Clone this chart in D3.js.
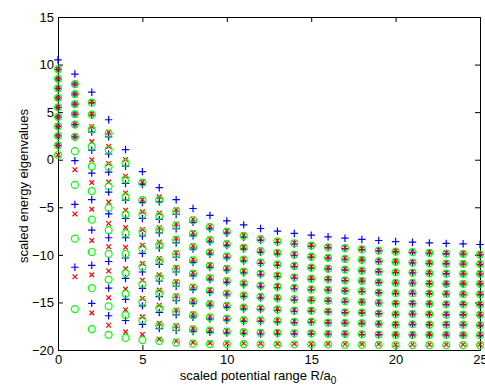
<!DOCTYPE html>
<html>
<head>
<meta charset="utf-8">
<script src="https://cdn.jsdelivr.net/npm/d3@7"></script>
<style>
  body { margin: 0; background: #fff; }
  svg { display: block; }
  text { font-family: "Liberation Sans", Arial, Helvetica, sans-serif; }
</style>
</head>
<body>
<div id="chart"></div>
<script>
// potential range R/a0 for each column of eigenvalues
const rangeValues = [0, 1, 2, 3, 4, 5, 6, 7, 8, 9, 10, 11, 12, 13, 14, 15, 16, 17, 18, 19, 20, 21, 22, 23, 24, 25];

// blue "+" eigenvalues, one list per R
const plusValues = [
  [10.5, 9.5, 8.5, 7.5, 6.5, 5.5, 4.5, 3.5, 2.5, 1.5],
  [9.0, 7.95, 6.9, 5.85, 4.8, 3.7, 2.4, -0.1, -4.7, -11.3],
  [7.1, 6.0, 4.7, 2.9, 1.0, -1.4, -4.2, -7.4, -11.1, -15.1],
  [4.2, 2.4, 0.6, -1.3, -3.4, -5.7, -8.2, -10.7, -13.5, -16.4],
  [1.07, -0.68, -2.5, -4.25, -6.18, -8.2, -10.33, -12.48, -14.67, -16.9],
  [-1.25, -2.6, -4.5, -6.18, -8.02, -9.85, -11.8, -13.53, -15.36, -17.31],
  [-2.94, -4.43, -6.28, -7.7, -9.28, -11.0, -12.75, -14.4, -16.05, -17.75],
  [-4.2, -5.75, -7.25, -8.75, -10.25, -11.8, -13.3, -14.8, -16.3, -17.95],
  [-5.13, -6.58, -8.0, -9.4, -10.8, -12.2, -13.65, -15.1, -16.55, -18.05],
  [-5.86, -7.27, -8.63, -9.93, -11.33, -12.62, -13.95, -15.35, -16.75, -18.15],
  [-6.43, -7.72, -9.02, -10.32, -11.62, -12.92, -14.22, -15.52, -16.87, -18.22],
  [-6.85, -8.15, -9.4, -10.65, -11.9, -13.15, -14.4, -15.7, -17.0, -18.27],
  [-7.23, -8.48, -9.73, -10.91, -12.1, -13.36, -14.54, -15.76, -17.0, -18.32],
  [-7.51, -8.7, -9.9, -11.1, -12.28, -13.45, -14.63, -15.83, -17.05, -18.3],
  [-7.75, -8.86, -10.05, -11.23, -12.43, -13.54, -14.74, -15.93, -17.12, -18.31],
  [-7.93, -9.08, -10.24, -11.39, -12.55, -13.67, -14.79, -15.91, -17.08, -18.3],
  [-8.1, -9.24, -10.35, -11.48, -12.6, -13.71, -14.84, -15.99, -17.15, -18.34],
  [-8.25, -9.34, -10.46, -11.58, -12.71, -13.79, -14.91, -16.07, -17.18, -18.34],
  [-8.38, -9.44, -10.55, -11.68, -12.76, -13.85, -14.97, -16.09, -17.21, -18.37],
  [-8.49, -9.57, -10.69, -11.77, -12.9, -13.98, -15.06, -16.18, -17.27, -18.39],
  [-8.6, -9.67, -10.75, -11.85, -12.96, -14.05, -15.13, -16.26, -17.34, -18.42],
  [-8.67, -9.74, -10.83, -11.88, -12.96, -14.05, -15.13, -16.22, -17.31, -18.42],
  [-8.74, -9.81, -10.9, -11.95, -13.03, -14.08, -15.16, -16.26, -17.34, -18.42],
  [-8.8, -9.88, -10.93, -11.98, -13.06, -14.12, -15.21, -16.29, -17.34, -18.42],
  [-8.84, -9.91, -10.96, -12.01, -13.06, -14.14, -15.21, -16.29, -17.36, -18.44],
  [-8.91, -9.99, -10.99, -12.01, -13.06, -14.16, -15.24, -16.32, -17.41, -18.46]
];

// red "x" eigenvalues
const crossValues = [
  [9.5, 8.5, 7.5, 6.5, 5.5, 4.5, 3.5, 2.5, 1.5, 0.5],
  [7.95, 6.9, 5.85, 4.8, 3.7, 2.45, -1.05, -5.7, -12.3],
  [6.1, 4.8, 3.5, 1.9, 0.0, -2.4, -5.2, -8.5, -12.1, -16.1],
  [2.9, 1.4, -0.4, -2.35, -4.45, -6.7, -9.15, -11.7, -14.5, -17.4],
  [0.02, -1.73, -3.49, -5.3, -7.12, -9.2, -11.45, -13.6, -15.77, -18.09],
  [-2.33, -4.18, -5.48, -7.33, -8.98, -10.9, -12.66, -14.58, -16.51, -18.36],
  [-3.9, -5.6, -7.15, -8.65, -10.38, -12.08, -13.7, -15.3, -17.2, -18.85],
  [-5.25, -6.75, -8.25, -9.75, -11.3, -12.8, -14.3, -15.8, -17.45, -19.05],
  [-6.23, -7.65, -9.05, -10.45, -11.85, -13.3, -14.75, -16.2, -17.7, -19.2],
  [-6.97, -8.33, -9.63, -11.03, -12.32, -13.65, -15.05, -16.45, -17.85, -19.25],
  [-7.45, -8.75, -10.05, -11.35, -12.65, -13.95, -15.25, -16.6, -17.95, -19.28],
  [-7.91, -9.16, -10.41, -11.66, -12.91, -14.16, -15.46, -16.76, -18.03, -19.29],
  [-8.26, -9.51, -10.69, -11.88, -13.14, -14.32, -15.54, -16.78, -18.1, -19.31],
  [-8.52, -9.72, -10.92, -12.1, -13.27, -14.45, -15.65, -16.87, -18.12, -19.35],
  [-8.71, -9.9, -11.08, -12.28, -13.39, -14.59, -15.78, -16.97, -18.16, -19.35],
  [-8.95, -10.11, -11.26, -12.42, -13.54, -14.66, -15.78, -16.95, -18.17, -19.35],
  [-9.13, -10.24, -11.37, -12.49, -13.6, -14.73, -15.88, -17.04, -18.23, -19.35],
  [-9.23, -10.35, -11.47, -12.6, -13.68, -14.8, -15.96, -17.07, -18.23, -19.38],
  [-9.34, -10.45, -11.58, -12.66, -13.75, -14.87, -15.99, -17.11, -18.27, -19.38],
  [-9.48, -10.6, -11.68, -12.81, -13.89, -14.97, -16.09, -17.18, -18.3, -19.38],
  [-9.58, -10.66, -11.76, -12.87, -13.96, -15.04, -16.17, -17.25, -18.33, -19.42],
  [-9.65, -10.74, -11.79, -12.87, -13.96, -15.04, -16.13, -17.22, -18.33, -19.42],
  [-9.72, -10.81, -11.86, -12.94, -13.99, -15.07, -16.17, -17.25, -18.33, -19.42],
  [-9.79, -10.84, -11.89, -12.97, -14.03, -15.12, -16.2, -17.25, -18.33, -19.42],
  [-9.82, -10.87, -11.92, -12.97, -14.05, -15.12, -16.2, -17.27, -18.35, -19.42],
  [-9.9, -10.9, -11.92, -12.97, -14.07, -15.15, -16.23, -17.32, -18.37, -19.42]
];

// green "o" eigenvalues
const circleValues = [
  [9.5, 8.5, 7.5, 6.5, 5.5, 4.5, 3.5, 2.5, 1.5, 0.5],
  [7.95, 6.9, 5.85, 4.8, 3.7, 2.4, 0.9, -2.65, -8.3, -15.7],
  [6.0, 4.75, 3.2, 1.4, -0.7, -3.3, -6.3, -9.7, -13.5, -17.8],
  [2.75, 1.05, -0.75, -2.8, -5.05, -7.4, -9.9, -12.6, -15.4, -18.4],
  [-0.33, -2.08, -3.9, -5.74, -7.75, -9.9, -11.92, -14.1, -16.33, -18.73],
  [-2.4, -4.25, -5.76, -7.58, -9.33, -11.26, -13.1, -14.94, -16.86, -18.96],
  [-4.2, -5.9, -7.35, -8.95, -10.6, -12.35, -14.0, -15.6, -17.4, -19.05],
  [-5.42, -6.92, -8.42, -9.92, -11.47, -12.97, -14.47, -15.97, -17.62, -19.22],
  [-6.36, -7.78, -9.18, -10.58, -11.98, -13.43, -14.88, -16.33, -17.83, -19.33],
  [-7.09, -8.45, -9.75, -11.15, -12.44, -13.77, -15.17, -16.57, -17.97, -19.37],
  [-7.56, -8.86, -10.16, -11.46, -12.76, -14.06, -15.36, -16.71, -18.06, -19.39],
  [-8.0, -9.25, -10.5, -11.75, -13.0, -14.25, -15.55, -16.85, -18.12, -19.38],
  [-8.35, -9.6, -10.78, -11.97, -13.23, -14.41, -15.63, -16.87, -18.19, -19.4],
  [-8.59, -9.79, -10.99, -12.17, -13.34, -14.52, -15.72, -16.94, -18.19, -19.42],
  [-8.78, -9.97, -11.15, -12.35, -13.46, -14.66, -15.85, -17.04, -18.23, -19.42],
  [-9.02, -10.18, -11.33, -12.49, -13.61, -14.73, -15.85, -17.02, -18.24, -19.42],
  [-9.2, -10.31, -11.44, -12.56, -13.67, -14.8, -15.95, -17.11, -18.3, -19.42],
  [-9.3, -10.42, -11.54, -12.67, -13.75, -14.87, -16.03, -17.14, -18.3, -19.45],
  [-9.41, -10.52, -11.65, -12.73, -13.82, -14.94, -16.06, -17.18, -18.34, -19.45],
  [-9.55, -10.67, -11.75, -12.88, -13.96, -15.04, -16.16, -17.25, -18.37, -19.45],
  [-9.65, -10.73, -11.83, -12.94, -14.03, -15.11, -16.24, -17.32, -18.4, -19.49],
  [-9.72, -10.81, -11.86, -12.94, -14.03, -15.11, -16.2, -17.29, -18.4, -19.49],
  [-9.79, -10.88, -11.93, -13.01, -14.06, -15.14, -16.24, -17.32, -18.4, -19.49],
  [-9.86, -10.91, -11.96, -13.04, -14.1, -15.19, -16.27, -17.32, -18.4, -19.49],
  [-9.89, -10.94, -11.99, -13.04, -14.12, -15.19, -16.27, -17.34, -18.42, -19.49],
  [-9.97, -10.97, -11.99, -13.04, -14.14, -15.22, -16.3, -17.39, -18.44, -19.49]
];

const xTicks = [0, 5, 10, 15, 20, 25];
const yTicks = [-20, -15, -10, -5, 0, 5, 10, 15];

const W = 485, H = 387;
const plot = { left: 58, right: 480, top: 17, bottom: 350 };

const svg = d3.select("#chart").append("svg")
  .attr("width", W)
  .attr("height", H);

const x = d3.scaleLinear().domain([0, 25]).range([plot.left, plot.right]);
const y = d3.scaleLinear().domain([-20, 15]).range([plot.bottom, plot.top]);

const fmt = d3.format("d");
const tick = 5;

// bottom / left axes with labels, ticks pointing inside
const gx = svg.append("g")
  .attr("transform", `translate(0,${plot.bottom})`)
  .call(d3.axisBottom(x).tickValues(xTicks).tickFormat(fmt).tickSizeInner(-tick).tickSizeOuter(0).tickPadding(5));
const gy = svg.append("g")
  .attr("transform", `translate(${plot.left},0)`)
  .call(d3.axisLeft(y).tickValues(yTicks).tickFormat(fmt).tickSizeInner(-tick).tickSizeOuter(0).tickPadding(4));
// top / right axes: ticks only
const gt = svg.append("g")
  .attr("transform", `translate(0,${plot.top})`)
  .call(d3.axisTop(x).tickValues(xTicks).tickFormat("").tickSizeInner(-tick).tickSizeOuter(0));
const gr = svg.append("g")
  .attr("transform", `translate(${plot.right},0)`)
  .call(d3.axisRight(y).tickValues(yTicks).tickFormat("").tickSizeInner(-tick).tickSizeOuter(0));

[gx, gy, gt, gr].forEach(g => {
  g.selectAll("path.domain").attr("stroke", "#000").attr("stroke-width", 1);
  g.selectAll(".tick line").attr("stroke", "#000");
  g.selectAll("text").attr("font-size", 13).attr("fill", "#000")
    .attr("font-family", '"Liberation Sans", Arial, Helvetica, sans-serif');
});

// markers
const toPoints = vals => rangeValues.flatMap((r, i) => vals[i].map(v => ({ r, v })));

const series = [
  { vals: plusValues, type: d3.symbolPlus, size: 20, color: "#0000ff" },
  { vals: crossValues, type: d3.symbolTimes, size: 16, color: "#ff0000" },
  { vals: circleValues, type: d3.symbolCircle, size: 38, color: "#00ff00" }
];

series.forEach(s => {
  svg.append("g")
    .selectAll("path")
    .data(toPoints(s.vals))
    .join("path")
    .attr("transform", d => `translate(${x(d.r)},${y(d.v)})`)
    .attr("d", d3.symbol(s.type, s.size))
    .attr("fill", "none")
    .attr("stroke", s.color)
    .attr("stroke-width", 1.2);
});

// axis titles
const xl = svg.append("text")
  .attr("x", 258)
  .attr("y", 380)
  .attr("text-anchor", "middle")
  .attr("font-size", 13);
xl.append("tspan").text("scaled potential range R/a");
xl.append("tspan").attr("dy", 4).attr("font-size", 10).text("0");

svg.append("text")
  .attr("transform", "translate(28,186) rotate(-90)")
  .attr("text-anchor", "middle")
  .attr("font-size", 13)
  .text("scaled energy eigenvalues");
</script>
</body>
</html>
